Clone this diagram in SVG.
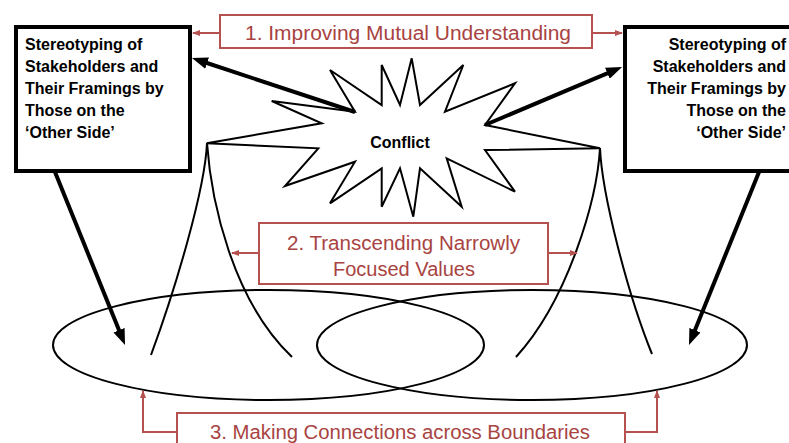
<svg xmlns="http://www.w3.org/2000/svg" width="789" height="443" viewBox="0 0 789 443">
<style>
.thin{fill:none;stroke:#000;stroke-width:2}
.thick{fill:none;stroke:#000;stroke-width:4}
.box{fill:#fff;stroke:#000;stroke-width:4}
.rbox{fill:#fff;stroke:#b5514f;stroke-width:2}
.rline{fill:none;stroke:#b5514f;stroke-width:2}
.btxt{font-family:"Liberation Sans",Arial,sans-serif;font-weight:bold;font-size:16px;fill:#000}
.rtxt{font-family:"Liberation Sans",Arial,sans-serif;font-size:20px;fill:#a84342;text-anchor:middle}
</style>
<defs>
<marker id="ah" markerUnits="userSpaceOnUse" markerWidth="16" markerHeight="12" refX="5" refY="6" orient="auto"><path d="M0,0 L16,6 L0,12 z" fill="#000"/></marker>
<marker id="rh" markerUnits="userSpaceOnUse" markerWidth="8" markerHeight="6" refX="7" refY="3" orient="auto"><path d="M0,0 L8,3 L0,6 z" fill="#b5514f"/></marker>
</defs>
<rect width="789" height="443" fill="#fff"/>
<g id="ellipses">
<ellipse id="left-ellipse" class="thin" cx="268.5" cy="345" rx="215.5" ry="55"/>
<ellipse id="right-ellipse" class="thin" cx="532" cy="345" rx="215" ry="55"/>
</g>
<g id="curves">
<path class="thin" d="M207,143 C205,190 175,290 151,355"/>
<path class="thin" d="M207,143 C211,200 232,300 292,357"/>
<path class="thin" d="M600,148 C597,200 568,300 516,357"/>
<path class="thin" d="M600,148 C602,195 628,295 652,354"/>
</g>
<g id="conflict">
<polygon class="thin" style="fill:#fff" points="411.7,58.3 420,105 463.3,65 445,111.7 515,83.3 485,125 600,148.3 485,150 515,191.7 446.7,158.3 461.7,206.7 420,168.3 413.3,216.7 400,168.3 381.7,206.7 381.7,168.3 330,203.3 355,161.7 285,186 318.3,148.3 206.7,143.3 321.7,123.3 271.7,101 355,111.7 330,70 381.7,105 381.7,65 400,105"/>
<text class="btxt" x="400" y="148" text-anchor="middle">Conflict</text>
</g>
<g id="left-box">
<rect class="box" x="16" y="27" width="174" height="144"/>
<text class="btxt"><tspan x="25" y="50">Stereotyping of</tspan><tspan x="25" y="72">Stakeholders and</tspan><tspan x="25" y="94">Their Framings by</tspan><tspan x="25" y="116">Those on the</tspan><tspan x="25" y="138">‘Other Side’</tspan></text>
</g>
<g id="right-box">
<rect class="box" x="625" y="27" width="200" height="144"/>
<text class="btxt" text-anchor="end"><tspan x="786" y="50">Stereotyping of</tspan><tspan x="786" y="72">Stakeholders and</tspan><tspan x="786" y="94">Their Framings by</tspan><tspan x="786" y="116">Those on the</tspan><tspan x="786" y="138">‘Other Side’</tspan></text>
</g>
<g id="connectors">
<line class="thick" x1="355" y1="112" x2="202.4" y2="61.5" marker-end="url(#ah)"/>
<line class="thick" x1="485" y1="125" x2="611.9" y2="71.3" marker-end="url(#ah)"/>
<line class="thick" x1="55" y1="172" x2="120.9" y2="334.8" marker-end="url(#ah)"/>
<line class="thick" x1="759" y1="172" x2="693.1" y2="334.8" marker-end="url(#ah)"/>
<path class="rline" d="M220,33 H193" marker-end="url(#rh)"/>
<path class="rline" d="M592,33 H622" marker-end="url(#rh)"/>
<path class="rline" d="M259,253 H232" marker-end="url(#rh)"/>
<path class="rline" d="M548,253 H577" marker-end="url(#rh)"/>
<path class="rline" d="M177,432 H143 V391" marker-end="url(#rh)"/>
<path class="rline" d="M625,432 H657 V391" marker-end="url(#rh)"/>
</g>
<g id="label-1">
<rect class="rbox" x="220" y="15" width="372" height="33"/>
<text class="rtxt" x="408" y="40" textLength="326" lengthAdjust="spacingAndGlyphs">1. Improving Mutual Understanding</text>
</g>
<g id="label-2">
<rect class="rbox" x="259" y="223" width="289" height="61"/>
<text class="rtxt" x="403.5" y="250" textLength="233" lengthAdjust="spacingAndGlyphs">2. Transcending Narrowly</text>
<text class="rtxt" x="404" y="276">Focused Values</text>
</g>
<g id="label-3">
<rect class="rbox" x="177" y="413" width="448" height="40"/>
<text class="rtxt" x="400" y="439" textLength="380" lengthAdjust="spacingAndGlyphs">3. Making Connections across Boundaries</text>
</g>
</svg>
